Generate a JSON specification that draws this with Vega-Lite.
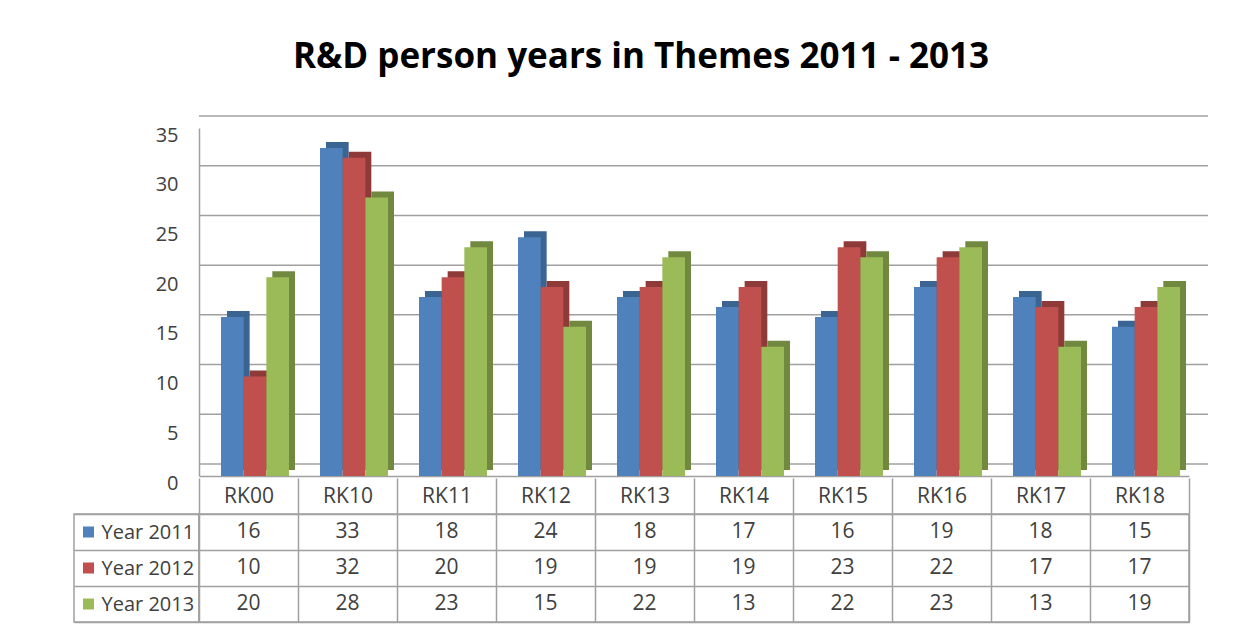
{
  "$schema": "https://vega.github.io/schema/vega-lite/v6.json",
  "background": "white",
  "padding": {"left": 73, "top": 40, "right": 10, "bottom": 5},
  "autosize": {"type": "pad"},
  "datasets": {
    "d": [
      {"theme": "RK00", "series": "Year 2011", "value": 16},
      {"theme": "RK10", "series": "Year 2011", "value": 33},
      {"theme": "RK11", "series": "Year 2011", "value": 18},
      {"theme": "RK12", "series": "Year 2011", "value": 24},
      {"theme": "RK13", "series": "Year 2011", "value": 18},
      {"theme": "RK14", "series": "Year 2011", "value": 17},
      {"theme": "RK15", "series": "Year 2011", "value": 16},
      {"theme": "RK16", "series": "Year 2011", "value": 19},
      {"theme": "RK17", "series": "Year 2011", "value": 18},
      {"theme": "RK18", "series": "Year 2011", "value": 15},
      {"theme": "RK00", "series": "Year 2012", "value": 10},
      {"theme": "RK10", "series": "Year 2012", "value": 32},
      {"theme": "RK11", "series": "Year 2012", "value": 20},
      {"theme": "RK12", "series": "Year 2012", "value": 19},
      {"theme": "RK13", "series": "Year 2012", "value": 19},
      {"theme": "RK14", "series": "Year 2012", "value": 19},
      {"theme": "RK15", "series": "Year 2012", "value": 23},
      {"theme": "RK16", "series": "Year 2012", "value": 22},
      {"theme": "RK17", "series": "Year 2012", "value": 17},
      {"theme": "RK18", "series": "Year 2012", "value": 17},
      {"theme": "RK00", "series": "Year 2013", "value": 20},
      {"theme": "RK10", "series": "Year 2013", "value": 28},
      {"theme": "RK11", "series": "Year 2013", "value": 23},
      {"theme": "RK12", "series": "Year 2013", "value": 15},
      {"theme": "RK13", "series": "Year 2013", "value": 22},
      {"theme": "RK14", "series": "Year 2013", "value": 13},
      {"theme": "RK15", "series": "Year 2013", "value": 22},
      {"theme": "RK16", "series": "Year 2013", "value": 23},
      {"theme": "RK17", "series": "Year 2013", "value": 13},
      {"theme": "RK18", "series": "Year 2013", "value": 19}
    ],
    "s": [
      {"series": "Year 2011"},
      {"series": "Year 2012"},
      {"series": "Year 2013"}
    ],
    "grid": [
      {"g": 0}, {"g": 5}, {"g": 10}, {"g": 15}, {"g": 20}, {"g": 25}, {"g": 30}, {"g": 35}
    ]
  },
  "title": {
    "text": "R&D person years in Themes 2011 - 2013",
    "anchor": "middle",
    "font": "Open Sans",
    "fontSize": 35,
    "fontWeight": "bold",
    "color": "#000000",
    "baseline": "alphabetic",
    "offset": 12
  },
  "columns": 2,
  "spacing": {"row": 38, "column": 0},
  "bounds": "flush",
  "resolve": {"scale": {"x": "independent", "y": "independent", "color": "independent"}},
  "concat": [
    {
      "width": 125,
      "height": 348,
      "view": {"stroke": null},
      "data": {"values": [{}]},
      "mark": {"type": "point", "opacity": 0},
      "encoding": {}
    },
    {
      "width": 990,
      "height": 348,
      "view": {"stroke": null},
      "resolve": {"scale": {"x": "independent", "color": "independent"}},
      "layer": [
        {
          "data": {"name": "grid"},
          "mark": {"type": "rule", "color": "#a0a0a0", "strokeWidth": 1.5, "xOffset": 19, "yOffset": -12},
          "encoding": {
            "y": {
              "field": "g",
              "type": "quantitative",
              "scale": {"domain": [0, 35], "nice": false},
              "axis": {
                "title": null,
                "values": [0, 5, 10, 15, 20, 25, 30, 35],
                "labelFont": "Open Sans",
                "labelFontSize": 20,
                "labelColor": "#404040",
                "labelOffset": 7,
                "labelPadding": 21,
                "ticks": false,
                "tickSize": 0,
                "grid": false,
                "domain": true,
                "domainColor": "#a0a0a0",
                "domainWidth": 1.5
              }
            }
          }
        },
        {
          "data": {"name": "d"},
          "mark": {"type": "bar", "yOffset": -6},
          "encoding": {
            "x": {
              "field": "theme",
              "type": "nominal",
              "scale": {"paddingInner": 0.313, "paddingOuter": 0.1565, "align": 0.903},
              "axis": null
            },
            "xOffset": {"field": "series", "type": "nominal", "scale": {"paddingInner": 0, "paddingOuter": 0}},
            "y": {
              "field": "value",
              "type": "quantitative",
              "scale": {"domain": [0, 35], "nice": false},
              "axis": {
                "title": null,
                "values": [0, 5, 10, 15, 20, 25, 30, 35],
                "labelFont": "Open Sans",
                "labelFontSize": 20,
                "labelColor": "#404040",
                "labelOffset": 7,
                "labelPadding": 21,
                "ticks": false,
                "tickSize": 0,
                "grid": false,
                "domain": true,
                "domainColor": "#a0a0a0",
                "domainWidth": 1.5
              }
            },
            "color": {
              "field": "series",
              "type": "nominal",
              "scale": {"domain": ["Year 2011", "Year 2012", "Year 2013"], "range": ["#3A6491", "#8E3A38", "#71893F"]},
              "legend": null
            }
          }
        },
        {
          "data": {"name": "d"},
          "mark": {"type": "bar"},
          "encoding": {
            "x": {
              "field": "theme",
              "type": "nominal",
              "scale": {"paddingInner": 0.313, "paddingOuter": 0.1565, "align": 0.71},
              "axis": {
                "title": null,
                "labels": false,
                "ticks": false,
                "grid": false,
                "domain": true,
                "domainColor": "#a0a0a0",
                "domainWidth": 1.5
              }
            },
            "xOffset": {"field": "series", "type": "nominal", "scale": {"paddingInner": 0, "paddingOuter": 0}},
            "y": {
              "field": "value",
              "type": "quantitative",
              "scale": {"domain": [0, 35], "nice": false},
              "axis": {
                "title": null,
                "values": [0, 5, 10, 15, 20, 25, 30, 35],
                "labelFont": "Open Sans",
                "labelFontSize": 20,
                "labelColor": "#404040",
                "labelOffset": 7,
                "labelPadding": 21,
                "ticks": false,
                "tickSize": 0,
                "grid": false,
                "domain": true,
                "domainColor": "#a0a0a0",
                "domainWidth": 1.5
              }
            },
            "color": {
              "field": "series",
              "type": "nominal",
              "scale": {"domain": ["Year 2011", "Year 2012", "Year 2013"], "range": ["#4F81BD", "#C0504D", "#9BBB59"]},
              "legend": null
            }
          }
        }
      ]
    },
    {
      "width": 125,
      "height": 108,
      "view": {"stroke": "#a0a0a0", "strokeWidth": 1.5},
      "data": {"name": "s"},
      "mark": {"type": "point", "shape": "square", "filled": true, "size": 121, "opacity": 1, "xOffset": -48},
      "encoding": {
        "y": {
          "field": "series",
          "type": "nominal",
          "scale": {"paddingInner": 0, "paddingOuter": 0},
          "axis": {
            "title": null,
            "labelAlign": "left",
            "labelBaseline": "middle",
            "labelPadding": -27,
            "ticks": false,
            "tickSize": 0,
            "domain": false,
            "grid": true,
            "tickBand": "extent",
            "gridColor": "#a0a0a0",
            "gridWidth": 1.5,
            "labelFont": "Open Sans",
            "labelFontSize": 20,
            "labelColor": "#404040"
          }
        },
        "color": {
          "field": "series",
          "type": "nominal",
          "scale": {"domain": ["Year 2011", "Year 2012", "Year 2013"], "range": ["#4F81BD", "#C0504D", "#9BBB59"]},
          "legend": null
        }
      }
    },
    {
      "width": 990,
      "height": 108,
      "view": {"stroke": "#a0a0a0", "strokeWidth": 1.5},
      "data": {"name": "d"},
      "mark": {"type": "text", "font": "Open Sans", "fontSize": 21, "color": "#404040"},
      "encoding": {
        "x": {
          "field": "theme",
          "type": "nominal",
          "scale": {"paddingInner": 0, "paddingOuter": 0},
          "axis": {
            "orient": "top",
            "title": null,
            "labelAngle": 0,
            "labelFont": "Open Sans",
            "labelFontSize": 21,
            "labelColor": "#404040",
            "labelBaseline": "middle",
            "labelPadding": -18,
            "tickSize": 36,
            "tickColor": "#a0a0a0",
            "tickWidth": 1.5,
            "tickBand": "extent",
            "domain": false,
            "grid": true,
            "gridColor": "#a0a0a0",
            "gridWidth": 1.5
          }
        },
        "y": {
          "field": "series",
          "type": "nominal",
          "scale": {"paddingInner": 0, "paddingOuter": 0},
          "axis": {
            "title": null,
            "labels": false,
            "ticks": false,
            "domain": false,
            "grid": true,
            "tickBand": "extent",
            "gridColor": "#a0a0a0",
            "gridWidth": 1.5
          }
        },
        "text": {"field": "value", "type": "quantitative"}
      }
    }
  ]
}
